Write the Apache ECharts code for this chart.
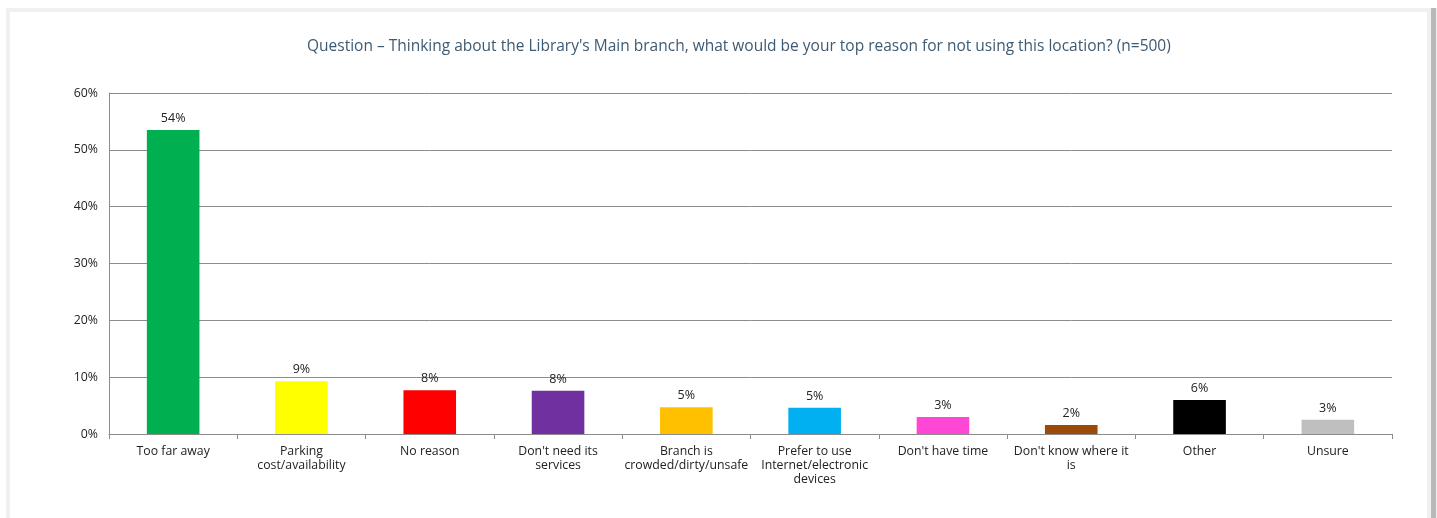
<!DOCTYPE html>
<html>
<head>
<meta charset="utf-8">
<script src="https://cdn.jsdelivr.net/npm/echarts@6/dist/echarts.min.js"></script>
<style>
  html, body { margin: 0; padding: 0; background: #ffffff; overflow: hidden; }
  #frame {
    position: absolute; left: 6px; top: 8px; width: 1417px; height: 620px;
    border: 4px solid #f0f0f0; border-bottom: none;
    box-shadow: 5px 0 0 #b9b9b9, 7px 0 0 #efefef;
  }
  #chart { position: absolute; left: 0; top: 0; width: 1437px; height: 518px; }
</style>
</head>
<body>
<div id="frame"></div>
<div id="chart"></div>
<script>
// Survey answers, one bar per reason
const categories = [
  'Too far away',
  'Parking\ncost/availability',
  'No reason',
  "Don't need its\nservices",
  'Branch is\ncrowded/dirty/unsafe',
  'Prefer to use\nInternet/electronic\ndevices',
  "Don't have time",
  "Don't know where it\nis",
  'Other',
  'Unsure'
];
const shares = [53.5, 9.3, 7.7, 7.6, 4.7, 4.6, 3.0, 1.6, 6.0, 2.5];
const barColors = ['#00b050', '#ffff00', '#ff0000', '#7030a0', '#ffc000',
                   '#00b0f0', '#ff47d6', '#9c4a08', '#000000', '#bfbfbf'];
const yTicks = [0, 10, 20, 30, 40, 50, 60];
const titleText = "Question \u2013 Thinking about the Library's Main branch, what would be your top reason for not using this location? (n=500)";

const chart = echarts.init(document.getElementById('chart'), null, { renderer: 'canvas' });
chart.setOption({
  animation: false,
  textStyle: { fontFamily: 'Open Sans' },
  title: {
    text: titleText,
    left: 302, top: 34,
    textStyle: { color: '#3d5a73', fontSize: 15.5, fontWeight: 'normal', fontFamily: 'Open Sans' }
  },
  grid: { left: 109, right: 45, top: 93, bottom: 84, containLabel: false },
  xAxis: {
    type: 'category',
    data: categories,
    axisLine: { lineStyle: { color: '#8c8c8c', width: 1 } },
    axisTick: { show: true, alignWithLabel: false, length: 5, lineStyle: { color: '#8c8c8c' } },
    axisLabel: { color: '#222', fontSize: 12.3, margin: 10, lineHeight: 14, interval: 0 },
    z: 5
  },
  yAxis: {
    type: 'value',
    min: yTicks[0], max: yTicks[yTicks.length - 1], interval: 10,
    axisLine: { show: true, lineStyle: { color: '#8c8c8c', width: 1 } },
    axisTick: { show: false },
    splitLine: { lineStyle: { color: '#8c8c8c', width: 1 } },
    axisLabel: { color: '#222', fontSize: 12.3, margin: 11, formatter: v => v + '%' }
  },
  series: [{
    type: 'bar',
    barWidth: '41%',
    data: shares.map((v, i) => ({ value: v, itemStyle: { color: barColors[i] } })),
    label: {
      show: true, position: 'top', distance: 5,
      color: '#222', fontSize: 12.5,
      formatter: p => Math.round(p.value) + '%'
    }
  }]
});
</script>
</body>
</html>
